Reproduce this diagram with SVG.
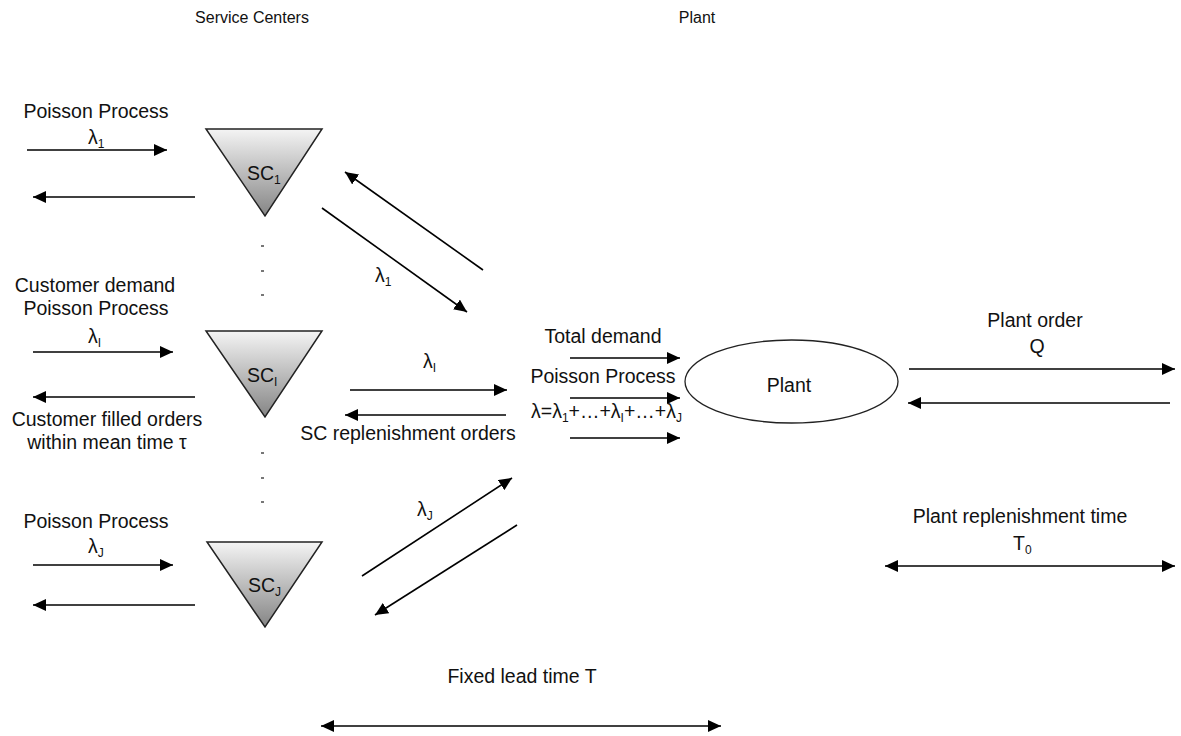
<svg xmlns="http://www.w3.org/2000/svg" width="1181" height="736" viewBox="0 0 1181 736">
<defs>
<linearGradient id="tri" x1="0" y1="0" x2="0" y2="1">
<stop offset="0" stop-color="#f4f4f4"/>
<stop offset="1" stop-color="#858585"/>
</linearGradient>
<marker id="ah" markerUnits="userSpaceOnUse" markerWidth="13" markerHeight="12" refX="13" refY="6" orient="auto-start-reverse">
<path d="M0,0 L13,6 L0,12 z" fill="#000"/>
</marker>
<style>
text{font-family:"Liberation Sans",Arial,sans-serif;font-size:19.5px;fill:#111;}
.c{text-anchor:middle;}
.t{font-size:16px;}
.sub{font-size:12px;}
.tri{fill:url(#tri);stroke:#222;stroke-width:1.5;}
.ln{stroke:#000;stroke-width:1.6;fill:none;}
.a{marker-end:url(#ah);}
.d{marker-start:url(#ah);marker-end:url(#ah);}
.dot{fill:#777;}
</style>
</defs>
<rect width="1181" height="736" fill="#fff"/>

<g id="titles">
<text x="252" y="23" class="c t">Service Centers</text>
<text x="697" y="23" class="c t">Plant</text>
</g>

<g id="sc1">
<polygon class="tri" points="206,129 322,129 265,216"/>
<text x="247" y="180">SC<tspan class="sub" dy="4">1</tspan></text>
</g>
<g id="scI">
<polygon class="tri" points="206,331 322,331 265,417"/>
<text x="247" y="382">SC<tspan class="sub" dy="4">I</tspan></text>
</g>
<g id="scJ">
<polygon class="tri" points="207,542 322,542 265,627"/>
<text x="248" y="592">SC<tspan class="sub" dy="4">J</tspan></text>
</g>
<g id="plant">
<ellipse cx="791.5" cy="381.5" rx="106.5" ry="41.5" fill="#fff" stroke="#222" stroke-width="1.3"/>
<text x="789" y="392" class="c">Plant</text>
</g>

<g id="dots">
<rect class="dot" x="261" y="245" width="3" height="2"/>
<rect class="dot" x="261" y="270" width="3" height="2"/>
<rect class="dot" x="261" y="294" width="3" height="2"/>
<rect class="dot" x="261" y="452" width="3" height="2"/>
<rect class="dot" x="261" y="477" width="3" height="2"/>
<rect class="dot" x="261" y="501" width="3" height="2"/>
</g>

<g id="connectors">
<line class="ln a" x1="27" y1="150" x2="167" y2="150"/>
<line class="ln a" x1="195" y1="197" x2="33" y2="197"/>
<line class="ln a" x1="33" y1="352" x2="173" y2="352"/>
<line class="ln a" x1="195" y1="397" x2="33" y2="397"/>
<line class="ln a" x1="33" y1="565" x2="173" y2="565"/>
<line class="ln a" x1="195" y1="605" x2="33" y2="605"/>
<line class="ln a" x1="322" y1="208" x2="467" y2="312"/>
<line class="ln a" x1="483" y1="270" x2="345" y2="172"/>
<line class="ln a" x1="350" y1="390" x2="507" y2="390"/>
<line class="ln a" x1="506" y1="415" x2="345" y2="415"/>
<line class="ln a" x1="362" y1="576" x2="512" y2="478"/>
<line class="ln a" x1="517" y1="525" x2="375" y2="615"/>
<line class="ln a" x1="570" y1="358" x2="680" y2="358"/>
<line class="ln a" x1="570" y1="398" x2="680" y2="398"/>
<line class="ln a" x1="570" y1="438" x2="680" y2="438"/>
<line class="ln a" x1="909" y1="369" x2="1175" y2="369"/>
<line class="ln a" x1="1170" y1="403" x2="908" y2="403"/>
<line class="ln d" x1="885" y1="566" x2="1175" y2="566"/>
<line class="ln d" x1="321" y1="726" x2="721" y2="726"/>
</g>

<g id="labels">
<text x="96" y="118" class="c">Poisson Process</text>
<text x="88" y="144">λ<tspan class="sub" dy="4">1</tspan></text>
<text x="95" y="292" class="c">Customer demand</text>
<text x="96" y="315" class="c">Poisson Process</text>
<text x="88" y="343">λ<tspan class="sub" dy="4">I</tspan></text>
<text x="107" y="426" class="c">Customer filled orders</text>
<text x="107" y="449" class="c">within mean time τ</text>
<text x="96" y="528" class="c">Poisson Process</text>
<text x="88" y="553">λ<tspan class="sub" dy="4">J</tspan></text>
<text x="375" y="282">λ<tspan class="sub" dy="4">1</tspan></text>
<text x="423" y="368">λ<tspan class="sub" dy="4">I</tspan></text>
<text x="408" y="440" class="c">SC replenishment orders</text>
<text x="417" y="516">λ<tspan class="sub" dy="4">J</tspan></text>
<text x="603" y="343" class="c">Total demand</text>
<text x="603" y="383" class="c">Poisson Process</text>
<text x="531" y="418">λ=λ<tspan class="sub" dy="4">1</tspan><tspan dy="-4">+…+λ</tspan><tspan class="sub" dy="4">I</tspan><tspan dy="-4">+…+λ</tspan><tspan class="sub" dy="4">J</tspan></text>
<text x="1035" y="327" class="c">Plant order</text>
<text x="1037" y="353" class="c">Q</text>
<text x="1020" y="523" class="c">Plant replenishment time</text>
<text x="1013" y="550">T<tspan class="sub" dy="4">0</tspan></text>
<text x="522" y="683" class="c">Fixed lead time T</text>
</g>
</svg>
